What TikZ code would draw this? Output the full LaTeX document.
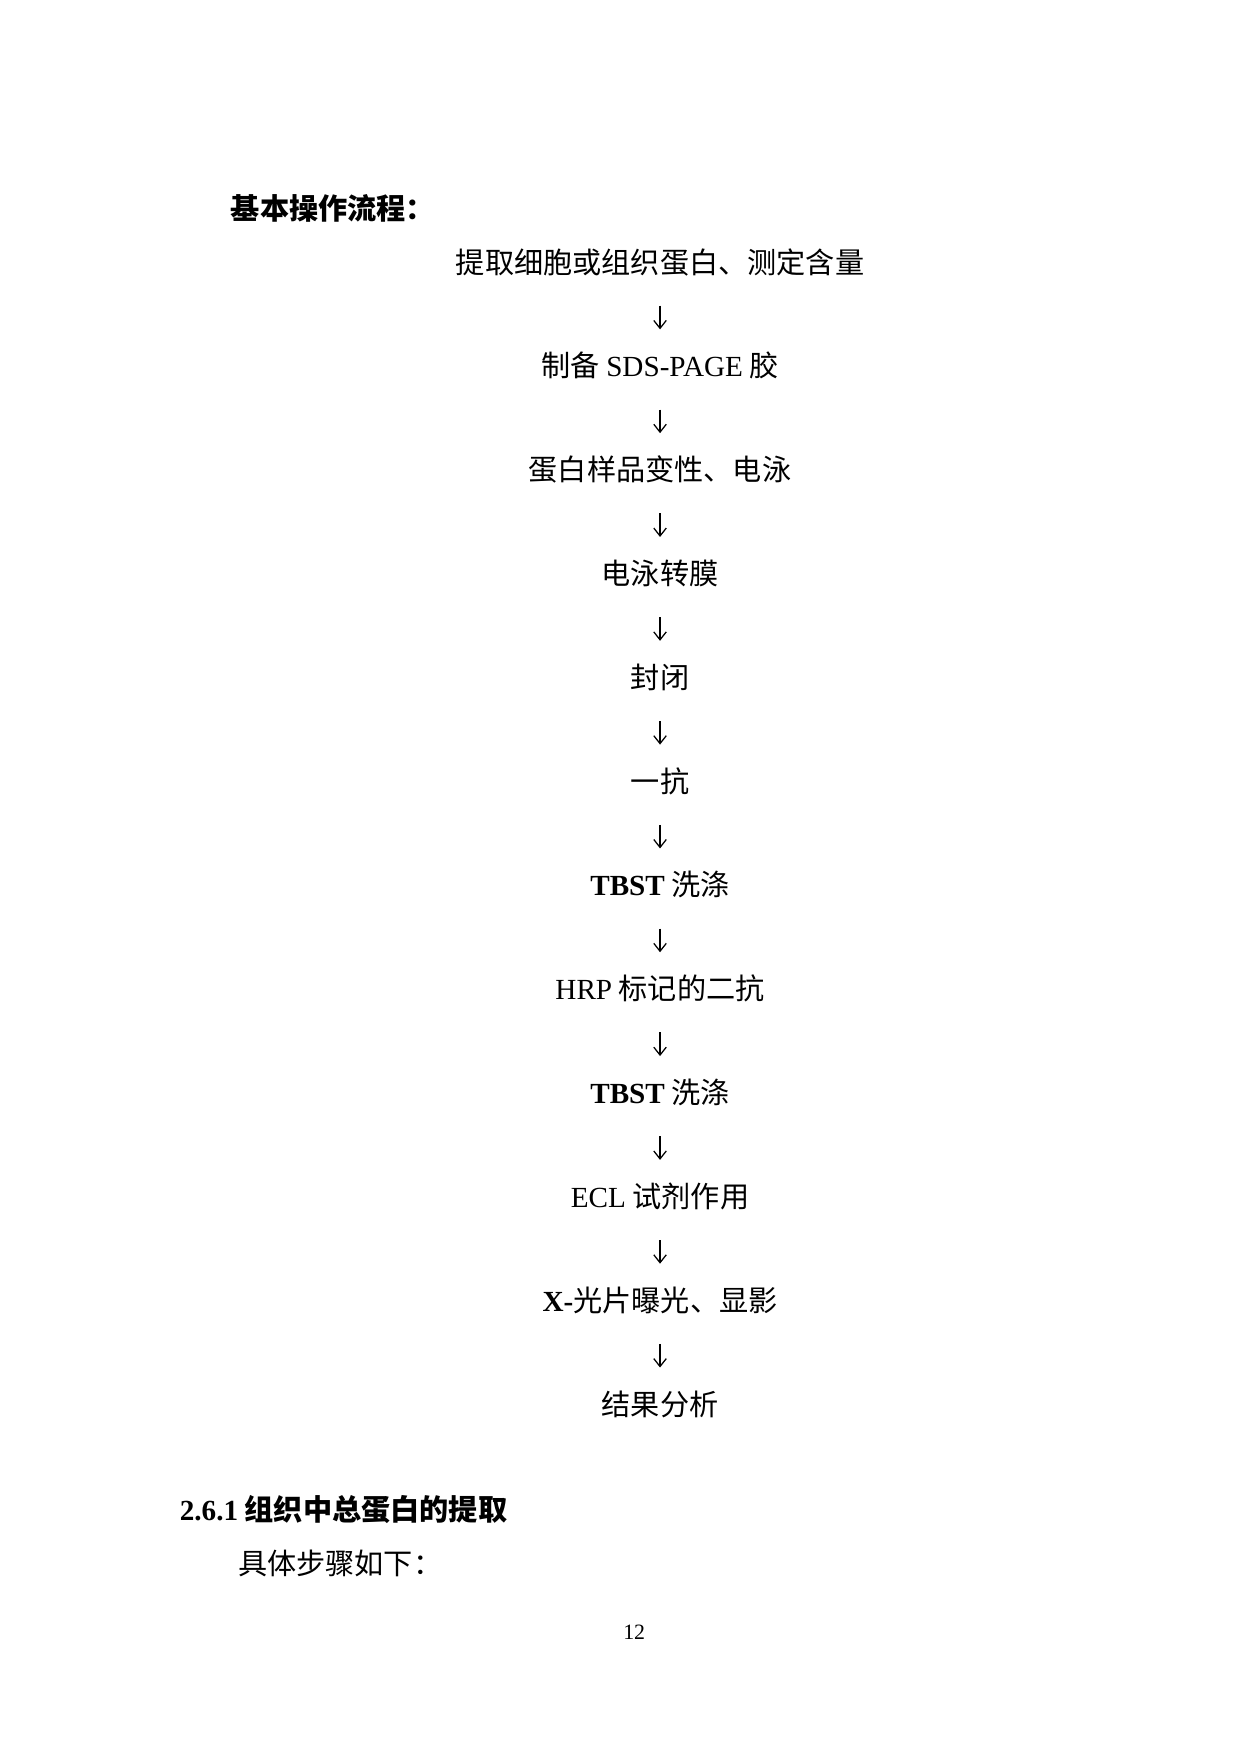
\documentclass[tikz,border=0pt]{standalone}
\usepackage{fontspec}
\setmainfont{Noto Sans CJK SC}
\newfontfamily\lat{Liberation Serif}
\usetikzlibrary{arrows.meta}

\begin{document}
\begin{tikzpicture}[->,>={Straight Barb[length=3.8bp,width=6bp]},line width=0.6bp,shorten >=10.5bp,shorten <=13.9bp,node distance=49.83bp,
  flow node/.style={inner sep=0pt,text height=12bp,text depth=1.5bp,font=\fontsize{14bp}{17bp}\selectfont}]

% Seite festlegen (A4), damit die Ränder stimmen
\useasboundingbox (0,0) rectangle (595.28bp,-841.89bp);

% Überschrift oben links
\node[flow node,anchor=west,font=\fontsize{14bp}{17bp}\selectfont\bfseries] (kopf) at (110.5bp,-100.3bp) {基本操作流程：};

% Schritte des Ablaufs, jeweils unter dem vorherigen (below of = [Name])
\node[flow node] (1) at (316.8bp,-125.8bp) {提取细胞或组织蛋白、测定含量};
\node[flow node] (2) [below of=1] {制备 {\lat SDS-PAGE} 胶};
\node[flow node] (3) [below of=2] {蛋白样品变性、电泳};
\node[flow node] (4) [below of=3] {电泳转膜};
\node[flow node] (5) [below of=4] {封闭};
\node[flow node] (6) [below of=5] {一抗};
\node[flow node] (7) [below of=6] {{\lat\bfseries TBST} 洗涤};
\node[flow node] (8) [below of=7] {{\lat HRP} 标记的二抗};
\node[flow node] (9) [below of=8] {{\lat\bfseries TBST} 洗涤};
\node[flow node] (10) [below of=9] {{\lat ECL} 试剂作用};
\node[flow node] (11) [below of=10] {{\lat\bfseries X-}光片曝光、显影};
\node[flow node] (12) [below of=11] {结果分析};

% Pfeile zwischen den Schritten
\path
  (1) edge (2)
  (2) edge (3)
  (3) edge (4)
  (4) edge (5)
  (5) edge (6)
  (6) edge (7)
  (7) edge (8)
  (8) edge (9)
  (9) edge (10)
  (10) edge (11)
  (11) edge (12)
;

% Text unter dem Ablauf
\node[flow node,anchor=west,font=\fontsize{14bp}{17bp}\selectfont\bfseries] (abschnitt) at (86bp,-724.6bp) {{\lat\bfseries 2.6.1} 组织中总蛋白的提取};
\node[flow node,anchor=west] (schritte) at (114bp,-750.3bp) {具体步骤如下：};
\node[font=\lat\fontsize{10.5bp}{12bp}\selectfont,inner sep=0pt] (seite) at (304.4bp,-783.4bp) {12};
\end{tikzpicture}
\end{document}
